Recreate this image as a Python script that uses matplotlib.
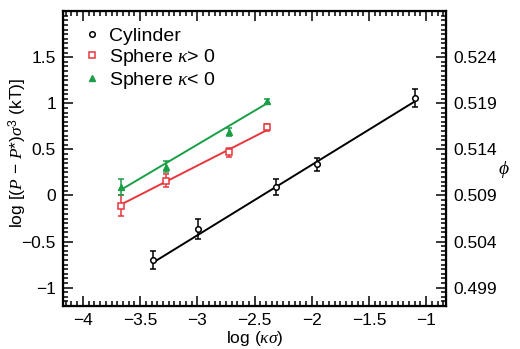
import numpy as np
import matplotlib
matplotlib.use("Agg")
import matplotlib.pyplot as plt
from matplotlib.lines import Line2D
from matplotlib.ticker import MultipleLocator, FuncFormatter

# data
cyl_x = [-3.39, -2.99, -2.31, -1.95, -1.10]
cyl_y = [-0.70, -0.36, 0.09, 0.34, 1.06]
cyl_err = [0.10, 0.11, 0.09, 0.07, 0.10]
cyl_fit_x = [-3.39, -1.10]
cyl_fit_y = [-0.73, 1.02]

sp_pos_x = [-3.67, -3.27, -2.72, -2.39]
sp_pos_y = [-0.11, 0.16, 0.47, 0.74]
sp_pos_err = [0.11, 0.07, 0.05, 0.04]
sp_pos_fit_x = [-3.67, -2.39]
sp_pos_fit_y = [-0.10, 0.71]

sp_neg_x = [-3.67, -3.27, -2.72, -2.39]
sp_neg_y = [0.09, 0.31, 0.69, 1.02]
sp_neg_err = [0.09, 0.06, 0.04, 0.03]
sp_neg_fit_x = [-3.67, -2.39]
sp_neg_fit_y = [0.06, 1.00]

red = '#e8363c'
green = '#1a9e46'

plt.rcParams['font.family'] = ['Liberation Sans', 'DejaVu Sans']
plt.rcParams['font.size'] = 12.5
plt.rcParams['mathtext.fontset'] = 'custom'
plt.rcParams['mathtext.it'] = 'Liberation Serif:italic'
plt.rcParams['mathtext.rm'] = 'Liberation Sans'

fig = plt.figure(figsize=(5.2, 3.49), dpi=100)
ax = fig.add_axes([0.121, 0.123, 0.737, 0.845])

ax.plot(cyl_fit_x, cyl_fit_y, color='black', lw=1.4)
ax.plot(sp_pos_fit_x, sp_pos_fit_y, color=red, lw=1.4)
ax.plot(sp_neg_fit_x, sp_neg_fit_y, color=green, lw=1.4)

ax.errorbar(cyl_x, cyl_y, yerr=cyl_err, fmt='o', ms=4, mfc='white', mec='black',
            mew=1.1, ecolor='black', elinewidth=1.1, capsize=2.5, capthick=1.1)
ax.errorbar(sp_pos_x, sp_pos_y, yerr=sp_pos_err, fmt='s', ms=4, mfc='white', mec=red,
            mew=1.1, ecolor=red, elinewidth=1.1, capsize=2.5, capthick=1.1)
ax.errorbar(sp_neg_x, sp_neg_y, yerr=sp_neg_err, fmt='^', ms=4.5, color=green,
            ecolor=green, elinewidth=1.1, capsize=2.5, capthick=1.1)

ax.set_xlim(-4.175, -0.825)
ax.set_ylim(-1.2, 2.0)

fmt = FuncFormatter(lambda v, p: ('%g' % v).replace('-', '\u2212'))
ax.xaxis.set_major_locator(MultipleLocator(0.5))
ax.xaxis.set_minor_locator(MultipleLocator(0.05))
ax.yaxis.set_minor_locator(MultipleLocator(0.05))
ax.xaxis.set_major_formatter(fmt)
ax.yaxis.set_major_formatter(fmt)
ax.set_yticks([-1, -0.5, 0, 0.5, 1, 1.5])
ax.tick_params(which='both', direction='in', top=True, right=False, width=1.1)
ax.tick_params(which='major', length=7, pad=5)
ax.tick_params(which='minor', length=3.5)
for s in ax.spines.values():
    s.set_linewidth(1.6)

ax.set_xlabel(r'log ($\kappa\sigma$)', labelpad=1)
ax.set_ylabel(r'log [($P$ $-$ $P$*)$\sigma^3$ (kT)]', fontsize=12.5)
ax.yaxis.set_label_coords(-0.088, 0.52)

ax2 = ax.twinx()
ax2.set_ylim(0.509 + 0.01 * -1.2, 0.509 + 0.01 * 2.0)
ax2.set_yticks([0.499, 0.504, 0.509, 0.514, 0.519, 0.524])
ax2.yaxis.set_minor_locator(MultipleLocator(0.0005))
ax2.yaxis.set_major_formatter(FuncFormatter(lambda v, p: '%.3f' % v))
ax2.tick_params(which='both', direction='in', width=1.1)
ax2.tick_params(which='major', length=7, pad=5)
ax2.tick_params(which='minor', length=3.5)
ax2.set_ylabel(r'$\phi$', rotation=0, labelpad=5, fontsize=14)

handles = [
    Line2D([], [], ls='none', marker='o', ms=4, mfc='white', mec='black', mew=1.1),
    Line2D([], [], ls='none', marker='s', ms=4, mfc='white', mec=red, mew=1.1),
    Line2D([], [], ls='none', marker='^', ms=4.5, color=green),
]
labels = ['Cylinder', r'Sphere $\kappa$> 0', r'Sphere $\kappa$< 0']
ax.legend(handles, labels, loc='upper left', frameon=False, handlelength=0.8,
          handletextpad=0.5, borderaxespad=0.2, labelspacing=0.1, fontsize=14,
          bbox_to_anchor=(0.025, 0.985))

plt.savefig('out.png', dpi=100)
